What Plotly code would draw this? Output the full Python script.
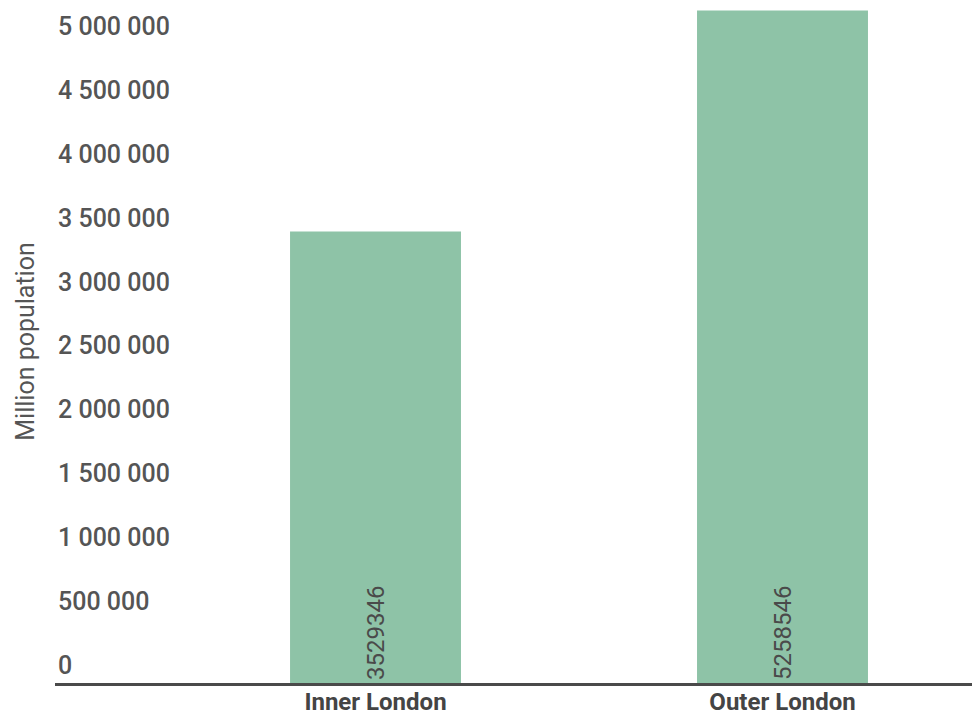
import plotly.graph_objects as go

categories = ["Inner London", "Outer London"]
population = [3529346, 5258546]
bar_labels = [str(v) for v in population]
y_ticks = [0, 500000, 1000000, 1500000, 2000000, 2500000, 3000000, 3500000, 4000000, 4500000, 5000000]

fig = go.Figure(go.Bar(
    x=categories,
    y=population,
    text=bar_labels,
    textposition="inside",
    insidetextanchor="start",
    textangle=-90,
    textfont=dict(family="Roboto", size=24, color="#4a4a4a"),
    marker=dict(color="#8EC3A7", line=dict(width=0)),
    width=0.42,
    cliponaxis=False,
))

fig.update_layout(
    width=972, height=715,
    margin=dict(l=55, r=0, t=0, b=32, autoexpand=False),
    paper_bgcolor="white", plot_bgcolor="white",
    separators=". ",
    showlegend=False,
    xaxis=dict(
        range=[-0.7875, 1.4656],
        showline=True, linecolor="#4a4a4a", linewidth=2.5,
        showgrid=False, ticks="", automargin=False,
        tickfont=dict(family="Roboto", size=24, color="#444444", weight="bold"),
        ticklabelstandoff=-5,
    ),
    yaxis=dict(
        range=[0, 5340000],
        tickvals=y_ticks,
        tickformat=",d",
        ticklabelposition="inside top",
        showline=False, showgrid=False, zeroline=False, ticks="", automargin=False,
        tickfont=dict(family="Roboto", size=25, color="#555555", weight=500),
        title=dict(text="Million population", standoff=16,
                   font=dict(family="Roboto", size=25, color="#555555")),
    ),
)

fig.write_html("out.html")
